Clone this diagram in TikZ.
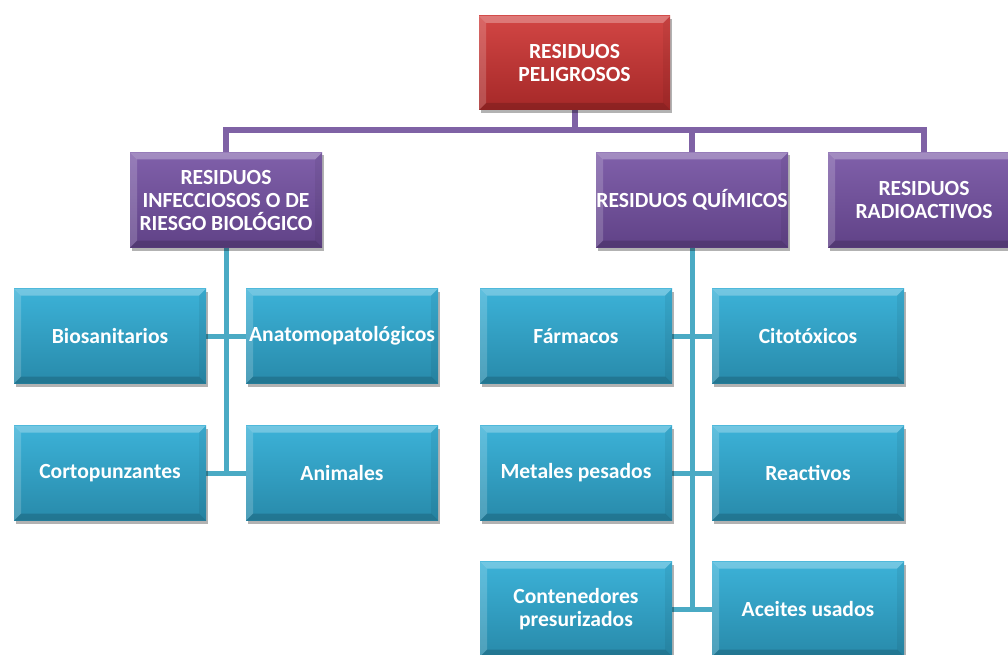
\documentclass[tikz,border=0pt]{standalone}
\usepackage{fontspec}
\setmainfont{Carlito}
\usetikzlibrary{shadows,backgrounds}

\definecolor{rojoarriba}{RGB}{210,70,68}
\definecolor{rojoabajo}{RGB}{165,40,40}
\definecolor{moradoarriba}{RGB}{128,96,170}
\definecolor{moradoabajo}{RGB}{96,66,135}
\definecolor{celestearriba}{RGB}{60,178,216}
\definecolor{celesteabajo}{RGB}{40,138,170}
\definecolor{lineamor}{RGB}{127,98,165}
\definecolor{lineacel}{RGB}{74,170,196}

\begin{document}
\begin{tikzpicture}[x=1pt,y=-1pt,
    bevel/.style={path picture={
      \coordinate (nw) at (path picture bounding box.north west);
      \coordinate (ne) at (path picture bounding box.north east);
      \coordinate (sw) at (path picture bounding box.south west);
      \coordinate (se) at (path picture bounding box.south east);
      \fill[white,opacity=.28] (nw) -- (ne) -- ([shift={(-7pt,-7pt)}]ne) -- ([shift={(7pt,-7pt)}]nw) -- cycle;
      \fill[white,opacity=.18] (nw) -- (sw) -- ([shift={(7pt,7pt)}]sw) -- ([shift={(7pt,-7pt)}]nw) -- cycle;
      \fill[black,opacity=.15] (sw) -- (se) -- ([shift={(-7pt,7pt)}]se) -- ([shift={(7pt,7pt)}]sw) -- cycle;
      \fill[black,opacity=.06] (ne) -- (se) -- ([shift={(-7pt,7pt)}]se) -- ([shift={(-7pt,-7pt)}]ne) -- cycle;
    }},
    caja/.style={rectangle,minimum width=192pt,minimum height=95pt,inner sep=0pt,
      align=center,text=white,font=\fontsize{21.6}{23}\selectfont\bfseries,
      general shadow={fill=black,opacity=.3,shadow xshift=2pt,shadow yshift=-3pt},bevel},
    rojo/.style={caja,top color=rojoarriba,bottom color=rojoabajo},
    morado/.style={caja,top color=moradoarriba,bottom color=moradoabajo},
    celeste/.style={caja,top color=celestearriba,bottom color=celesteabajo},
    lineamorada/.style={line width=6pt,draw=lineamor},
    lineaceleste/.style={line width=5pt,draw=lineacel}]
    \useasboundingbox (0,0) rectangle (1008,655);

    % cajas
    \node[rojo,minimum width=191pt,minimum height=94pt] (peligrosos) at (574.5,63) {RESIDUOS\\PELIGROSOS};
    \node[morado] (infecciosos) at (226,200) {RESIDUOS\\INFECCIOSOS O DE\\RIESGO BIOLÓGICO};
    \node[morado] (quimicos) at (692,200) {RESIDUOS QUÍMICOS};
    \node[morado] (radio) at (924,200) {RESIDUOS\\RADIOACTIVOS};

    \node[celeste] (bio) at (110,336) {Biosanitarios};
    \node[celeste] (anato) at (342,336) {Anatomopatológicos};
    \node[celeste] (corto) at (110,473) {Cortopunzantes};
    \node[celeste] (animales) at (342,473) {Animales};

    \node[celeste] (farmacos) at (576,336) {Fármacos};
    \node[celeste] (cito) at (808,336) {Citotóxicos};
    \node[celeste] (metales) at (576,473) {Metales pesados};
    \node[celeste] (reactivos) at (808,473) {Reactivos};
    \node[celeste] (contenedores) at (576,609) {Contenedores\\presurizados};
    \node[celeste] (aceites) at (808,609) {Aceites usados};

    % lineas
    \begin{scope}[on background layer]
    \draw[lineamorada] (peligrosos.south) --++(0,20) coordinate (bus) -| (infecciosos.north);
    \draw[lineamorada] (bus) -| (quimicos.north);
    \draw[lineamorada] (bus) -| (radio.north);
    \draw[lineaceleste] (infecciosos.south) |- (corto.east);
    \draw[lineaceleste] (infecciosos.south) |- (animales.west);
    \draw[lineaceleste] (bio.east) -- (anato.west);
    \draw[lineaceleste] (quimicos.south) |- (contenedores.east);
    \draw[lineaceleste] (quimicos.south) |- (aceites.west);
    \draw[lineaceleste] (farmacos.east) -- (cito.west);
    \draw[lineaceleste] (metales.east) -- (reactivos.west);
    \end{scope}
\end{tikzpicture}
\end{document}
